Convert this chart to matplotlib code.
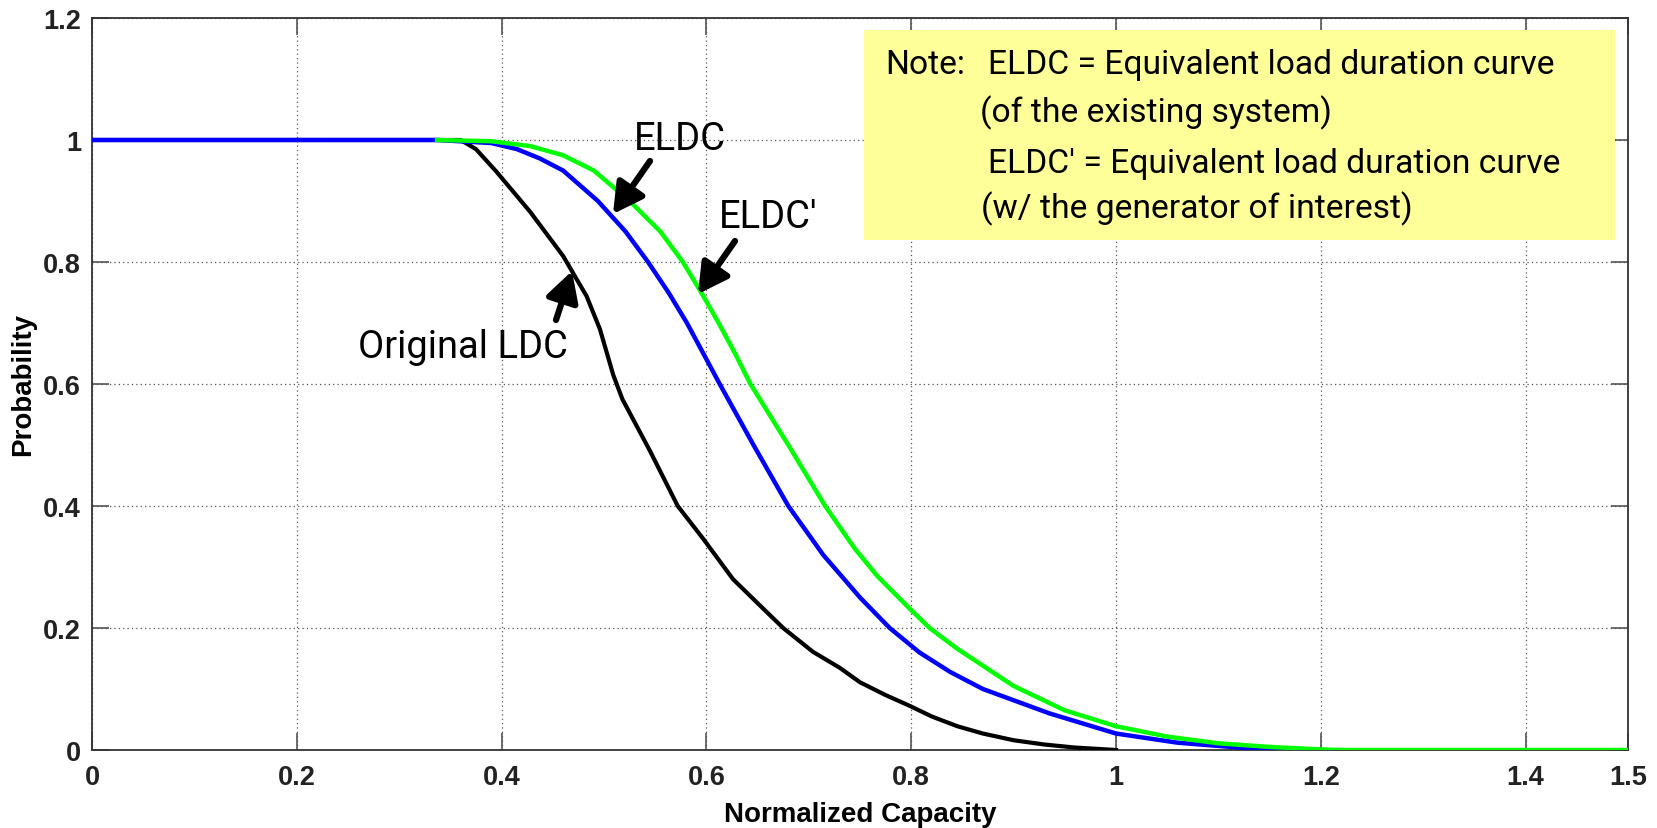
import matplotlib
matplotlib.use("Agg")
import matplotlib.pyplot as plt
from matplotlib import font_manager

# ---- data ----
ldc_x = [0.0, 0.36, 0.375, 0.395, 0.428, 0.46, 0.483, 0.496, 0.509, 0.518, 0.545, 0.572,
         0.597, 0.626, 0.659, 0.675, 0.704, 0.73, 0.75, 0.775, 0.799, 0.82, 0.845, 0.87,
         0.9, 0.93, 0.96, 1.0]
ldc_y = [1.0, 1.0, 0.985, 0.948, 0.882, 0.81, 0.744, 0.69, 0.615, 0.575, 0.49, 0.40,
         0.346, 0.28, 0.226, 0.20, 0.161, 0.135, 0.111, 0.09, 0.072, 0.055, 0.039, 0.027,
         0.016, 0.009, 0.004, 0.0]

eldc_x = [0.0, 0.337, 0.39, 0.415, 0.437, 0.46, 0.494, 0.521, 0.543, 0.563, 0.581, 0.597,
          0.613, 0.646, 0.68, 0.714, 0.75, 0.779, 0.808, 0.838, 0.87, 0.935, 1.0, 1.06,
          1.12, 1.17]
eldc_y = [1.0, 1.0, 0.995, 0.985, 0.97, 0.95, 0.90, 0.85, 0.80, 0.75, 0.70, 0.65,
          0.60, 0.50, 0.40, 0.32, 0.25, 0.20, 0.16, 0.128, 0.10, 0.06, 0.027, 0.012,
          0.004, 0.0]

eldcp_x = [0.337, 0.39, 0.428, 0.46, 0.49, 0.525, 0.555, 0.577, 0.595, 0.612, 0.628, 0.643,
           0.68, 0.716, 0.745, 0.767, 0.799, 0.818, 0.845, 0.9, 0.95, 1.0, 1.05, 1.1, 1.15,
           1.2, 1.22, 1.5]
eldcp_y = [1.0, 0.998, 0.99, 0.975, 0.95, 0.90, 0.85, 0.80, 0.75, 0.70, 0.65, 0.60,
           0.50, 0.40, 0.33, 0.285, 0.231, 0.20, 0.166, 0.105, 0.065, 0.039, 0.022, 0.011,
           0.005, 0.001, 0.0, 0.0]

x_ticks = [0, 0.2, 0.4, 0.6, 0.8, 1.0, 1.2, 1.4, 1.5]
x_tick_labels = ["0", "0.2", "0.4", "0.6", "0.8", "1", "1.2", "1.4", "1.5"]
y_ticks = [0, 0.2, 0.4, 0.6, 0.8, 1.0, 1.2]
y_tick_labels = ["0", "0.2", "0.4", "0.6", "0.8", "1", "1.2"]

note_lines = ["Note:", "ELDC = Equivalent load duration curve", "(of the existing system)",
              "ELDC\u2032 = Equivalent load duration curve", "(w/ the generator of interest)"]
curve_labels = ["ELDC", "ELDC\u2032", "Original LDC"]

# ---- font choice ----
names = {f.name for f in font_manager.fontManager.ttflist}
if "Liberation Sans Narrow" in names:
    narrow = ["Liberation Sans Narrow", "DejaVu Sans"]
elif "Roboto" in names:
    narrow = ["Roboto", "DejaVu Sans"]
else:
    narrow = ["Liberation Sans", "DejaVu Sans"]
bold = ["Liberation Sans", "DejaVu Sans"]

# ---- figure ----
W, H = 1658, 829
fig = plt.figure(figsize=(W / 100, H / 100), dpi=100)
L, R, T, B = 92, 1628, 19, 751
ax = fig.add_axes([L / W, 1 - B / H, (R - L) / W, (B - T) / H])

ax.plot(ldc_x, ldc_y, color="black", lw=3.0, zorder=3)
ax.plot(eldc_x, eldc_y, color="#0000ff", lw=3.2, zorder=4)
ax.plot(eldcp_x, eldcp_y, color="#00ff00", lw=3.2, zorder=5)

ax.set_xlim(0, 1.5)
ax.set_ylim(0, 1.2)
ax.set_xticks(x_ticks)
ax.set_xticklabels(x_tick_labels)
ax.set_yticks(y_ticks)
ax.set_yticklabels(y_tick_labels)
ax.grid(True, linestyle=(0, (1, 2.5)), color="#555555", lw=0.9)
ax.tick_params(direction="in", length=12, width=1.2, color="#555555",
               top=True, right=True, labelsize=19.5, labelcolor="#222222")
ax.tick_params(axis="x", pad=10)
ax.tick_params(axis="y", pad=8)
for lab in ax.get_xticklabels() + ax.get_yticklabels():
    lab.set_fontfamily(bold)
    lab.set_fontweight("bold")
for s in ax.spines.values():
    s.set_color("#333333")
    s.set_linewidth(1.3)

fig.text(23 / W, 1 - 385 / H, "Probability", rotation=90, ha="center", va="center",
         fontsize=20, fontweight="bold", family=bold)
fig.text(860 / W, 1 - 815 / H, "Normalized Capacity", ha="center", va="center",
         fontsize=20, fontweight="bold", family=bold)


def px2data(px, py):
    return (px - L) / (R - L) * 1.5, (B - py) / (B - T) * 1.2


renderer = fig.canvas.get_renderer()


def fit_size(text, target_px, family):
    t = fig.text(0, 0, text, fontsize=20, family=family)
    w = t.get_window_extent(renderer).width
    t.remove()
    return 20 * target_px / w


# note box
x0, y0 = px2data(864, 241)
x1, y1 = px2data(1615, 31)
ax.add_patch(plt.Rectangle((x0, y0), x1 - x0, y1 - y0, facecolor="#ffff99",
                           edgecolor="none", zorder=6))
note_fs = fit_size(note_lines[1], 565, narrow)
note_pos = [(885, 65), (988, 65), (980, 113), (988, 164), (981, 209)]
for (px, py), txt in zip(note_pos, note_lines):
    tx, ty = px2data(px, py)
    ax.text(tx, ty, txt, ha="left", va="center", fontsize=note_fs, family=narrow, zorder=7)

# curve labels
lab_fs = fit_size(curve_labels[2], 210, narrow)
for txt, (px, py) in zip(curve_labels, [(680, 139), (768, 217), (463, 347)]):
    tx, ty = px2data(px, py)
    ax.text(tx, ty, txt, ha="center", va="center", fontsize=lab_fs, family=narrow, zorder=7)

arrows = [((650, 162), (613, 215)), ((735, 242), (698, 295)), ((556, 321), (572, 272))]
for (tp, hp) in arrows:
    ax.annotate("", xy=px2data(*hp), xytext=px2data(*tp),
                arrowprops=dict(arrowstyle="-|>,head_length=1.0,head_width=0.55",
                                lw=4.5, color="black", mutation_scale=18,
                                shrinkA=0, shrinkB=0), zorder=7)

fig.savefig("out.png", dpi=100)
